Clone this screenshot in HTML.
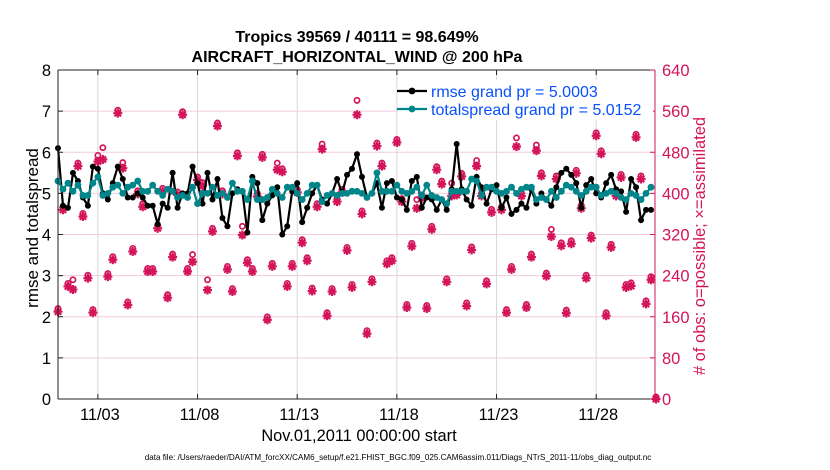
<!DOCTYPE html>
<html><head><meta charset="utf-8"><style>
body{margin:0;background:#fff;}
svg{display:block;font-family:"Liberation Sans",Arial,sans-serif;}
</style></head><body>
<svg id="chart" width="830" height="470" viewBox="0 0 830 470">
<rect width="830" height="470" fill="#fff"/>
<text x="357" y="42" text-anchor="middle" font-size="16" font-weight="bold">Tropics 39569 / 40111 = 98.649%</text>
<text x="357" y="62" text-anchor="middle" font-size="16" font-weight="bold">AIRCRAFT_HORIZONTAL_WIND @ 200 hPa</text>
<g id="grid"></g>
<g id="marks"></g>
<g id="axes"></g>
<text transform="translate(38,228) rotate(-90)" text-anchor="middle" font-size="17">rmse and totalspread</text>
<text transform="translate(705,246) rotate(-90)" text-anchor="middle" font-size="16.5" fill="#d4145a"># of obs: o=possible; ×=assimilated</text>
<text x="359" y="441" text-anchor="middle" font-size="16.4">Nov.01,2011 00:00:00 start</text>
<text x="398" y="460" text-anchor="middle" font-size="8.1">data file: /Users/raeder/DAI/ATM_forcXX/CAM6_setup/f.e21.FHIST_BGC.f09_025.CAM6assim.011/Diags_NTrS_2011-11/obs_diag_output.nc</text>
<g id="legend"></g>
</svg>
<script>
const xTickLabels=["11/03","11/08","11/13","11/18","11/23","11/28"];
const xTickDays=[2,7,12,17,22,27];
const yLeftTicks=[0,1,2,3,4,5,6,7,8];
const yRightTicks=[0,80,160,240,320,400,480,560,640];
const rmse=[6.1,4.7,4.65,5.5,5.3,4.9,4.7,5.65,5.6,5.0,4.85,5.25,5.65,5.35,4.9,4.9,5.0,4.9,4.7,4.7,4.25,4.75,4.65,5.5,4.65,5.0,5.0,5.65,5.25,4.75,5.5,4.85,5.35,4.4,4.2,5.0,5.1,5.05,4.05,5.4,5.25,
4.35,4.75,4.95,5.15,4.0,4.2,5.05,5.25,4.3,4.65,5.0,5.2,4.85,4.75,5.0,5.35,5.0,5.45,5.6,5.95,5.4,4.9,5.0,5.25,4.65,5.25,5.3,4.9,4.85,4.6,5.3,5.4,4.65,4.9,4.85,4.6,4.85,4.6,5.1,
6.2,5.1,4.85,4.7,5.4,5.15,4.75,5.1,5.2,4.65,4.9,4.5,4.6,4.75,4.65,5.1,4.75,5.0,4.85,4.7,5.15,5.5,5.6,5.45,5.25,4.65,5.2,5.35,5.0,4.9,5.25,5.45,5.1,5.05,4.55,5.35,5.15,4.35,4.6,4.6];
const spread=[5.3,5.1,5.25,5.05,5.2,4.95,4.95,5.25,5.4,4.95,5.0,5.15,5.2,5.0,5.15,5.2,5.3,5.05,5.05,5.2,5.05,4.95,5.1,5.05,4.9,4.95,4.9,5.15,4.75,5.0,5.0,5.15,4.95,5.0,4.9,5.25,5.05,5.05,4.85,5.3,4.85,
4.85,4.9,5.1,5.0,4.9,5.15,5.15,5.0,4.85,5.0,5.2,5.2,4.8,4.95,5.0,4.95,5.0,5.0,5.05,5.05,5.0,4.9,5.0,5.5,5.05,5.05,5.05,5.2,5.05,5.0,5.05,5.15,4.95,5.2,4.95,4.9,4.85,4.75,5.05,
5.05,5.05,5.05,5.35,5.3,4.95,5.15,5.15,5.05,5.0,5.05,5.15,5.0,5.1,5.15,5.15,4.85,4.9,4.85,5.05,4.9,5.05,5.2,5.15,5.05,4.95,5.05,5.15,5.15,4.95,5.0,5.05,5.0,4.9,4.85,5.0,4.95,4.85,5.0,5.15];
const assimilated=[170,368,219,213,453,355,235,168,462,466,238,271,556,449,183,287,399,374,248,248,332,404,197,276,397,553,248,267,426,415,212,326,531,399,252,209,473,319,265,248,
394,470,154,258,446,442,219,258,402,304,269,210,374,486,162,209,384,402,289,217,553,360,127,228,492,453,263,269,499,384,178,297,371,391,176,330,446,418,228,395,
397,433,181,290,453,395,224,363,556,368,168,252,491,395,178,276,483,434,239,316,428,298,167,302,439,371,235,313,512,477,162,295,395,431,217,220,509,428,185,232,0];
const possible=[172,370,221,228,455,357,237,170,470,485,240,273,558,456,185,289,401,376,250,250,334,406,199,278,399,555,250,277,428,417,228,328,533,401,254,211,475,332,267,250,
396,472,156,260,455,444,221,260,404,306,271,212,376,492,164,211,386,404,291,219,577,362,129,230,494,455,265,271,501,386,180,299,384,393,178,332,448,420,230,416,
399,435,183,292,460,397,226,365,569,370,170,254,504,397,180,278,490,436,241,326,430,300,169,304,441,373,237,315,514,479,164,297,397,433,219,222,511,430,187,234,0];

const NS="http://www.w3.org/2000/svg";
const X0=58,X1=655,Y0=399,Y1=70,DAYS=30;
function xs(t){return X0+(X1+1-X0)*t/DAYS;}
function yl(v){return Y0-(Y0-Y1)*v/8;}
function yr(c){return Y0-(Y0-Y1)*c/640;}
function mk(tag,attrs,parent){const e=document.createElementNS(NS,tag);for(const k in attrs)e.setAttribute(k,attrs[k]);parent.appendChild(e);return e;}
const grid=document.getElementById('grid'),marks=document.getElementById('marks'),axes=document.getElementById('axes'),legend=document.getElementById('legend');
const RED="#d4145a";
yRightTicks.forEach((c,i)=>{if(i===0||i===yRightTicks.length-1)return;
 const l=mk('line',{x1:X0,x2:X1,y1:yr(c),y2:yr(c),stroke:"#f3cbdc","stroke-width":1},grid);
 
 });
xTickDays.forEach(d=>{
 const l=mk('line',{x1:xs(d),x2:xs(d),y1:Y1,y2:Y0,stroke:"#d8d8d8","stroke-width":1},grid);
 
 });
assimilated.forEach((c,i)=>{
 const x=xs(i/4),y=yr(c);
 const g=mk('g',{stroke:RED,"stroke-width":2.2},marks);
 
 
 mk('line',{x1:x-4.5,x2:x+4.5,y1:y,y2:y},g);mk('line',{x1:x,x2:x,y1:y-4.5,y2:y+4.5},g);
 mk('line',{x1:x-3.2,x2:x+3.2,y1:y-3.2,y2:y+3.2},g);mk('line',{x1:x-3.2,x2:x+3.2,y1:y+3.2,y2:y-3.2},g);
});
possible.forEach((c,i)=>{
 const ci=mk('circle',{cx:xs(i/4),cy:yr(c)-2,r:2.6,fill:"none",stroke:RED,"stroke-width":1.7},marks);
 
 
});
function series(arr,color,r,name){
 const pts=arr.map((v,i)=>xs(i/4).toFixed(1)+","+yl(v).toFixed(1)).join(" ");
 const pl=mk('polyline',{points:pts,fill:"none",stroke:color,"stroke-width":2.2},marks);
 
 
 arr.forEach((v,i)=>{const c=mk('circle',{cx:xs(i/4),cy:yl(v),r:r,fill:color},marks);
  
  });
}
series(rmse,"#000",3,"rmse");
series(spread,"#00868a",3.4,"totalspread");
const box=mk('path',{d:`M${X0},${Y1}H${X1}M${X0},${Y0}H${X1}M${X0},${Y1}V${Y0}`,stroke:"#222","stroke-width":1,fill:"none"},axes);


const ra=mk('line',{x1:X1,x2:X1,y1:Y1,y2:Y0,stroke:RED,"stroke-width":1},axes);


yLeftTicks.forEach(v=>{const y=yl(v);
 mk('line',{x1:X0,x2:X0+5,y1:y,y2:y,stroke:"#222"},axes);
 const t=mk('text',{x:X0-7,y:y+6,"text-anchor":"end","font-size":16.5},axes);t.textContent=v;
 
 });
yRightTicks.forEach(c=>{const y=yr(c);
 mk('line',{x1:X1-5,x2:X1,y1:y,y2:y,stroke:RED},axes);
 const t=mk('text',{x:X1+7,y:y+6,"font-size":16.5,fill:RED},axes);t.textContent=c;
 
 });
xTickDays.forEach((d,i)=>{const x=xs(d);
 mk('line',{x1:x,x2:x,y1:Y0,y2:Y0-5,stroke:"#222"},axes);
 mk('line',{x1:x,x2:x,y1:Y1,y2:Y1+5,stroke:"#222"},axes);
 const t=mk('text',{x:x+2,y:420,"text-anchor":"middle","font-size":16.4},axes);t.textContent=xTickLabels[i];
 
 });
const lb=mk('rect',{x:398,y:80,width:255,height:40,fill:"#fff"},legend);


[["#000","rmse grand pr = 5.0003",91],["#00868a","totalspread grand pr = 5.0152",109]].forEach(e=>{
 const g=mk('g',{},legend);
 
 
 mk('line',{x1:397,x2:427,y1:e[2],y2:e[2],stroke:e[0],"stroke-width":2.2},g);
 mk('circle',{cx:412,cy:e[2],r:3.4,fill:e[0]},g);
 const t=mk('text',{x:431,y:e[2]+6,"font-size":16,fill:"#0a50ff"},g);t.textContent=e[1];
});
</script>
</body></html>
